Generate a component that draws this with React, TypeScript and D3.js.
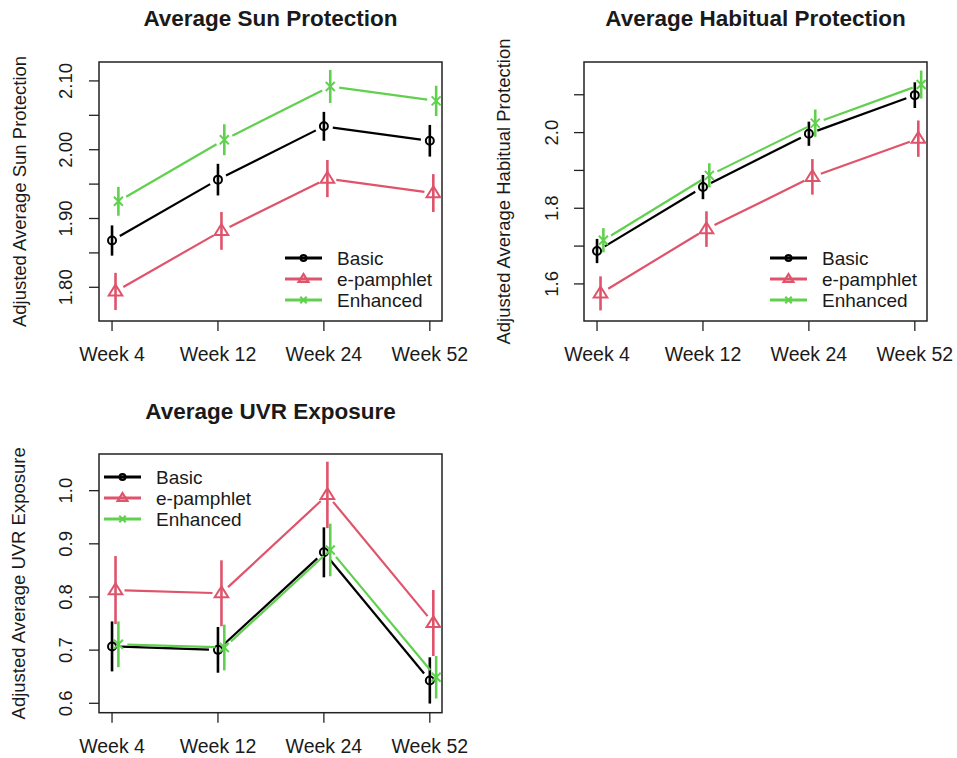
import React from "react";
import * as d3 from "d3";

// Categories and groups
const weeks = ["Week 4", "Week 12", "Week 24", "Week 52"];
const groups = ["Basic", "e-pamphlet", "Enhanced"];
const groupColors = ["#000000", "#DF536B", "#61D04F"];
const groupShapes = ["circle", "triangle", "cross"];
const groupDodge = [0, 0.033, 0.06];

// Average Sun Protection (rows: Basic, e-pamphlet, Enhanced)
const sunMean = [
  [1.868, 1.9565, 2.034, 2.013],
  [1.794, 1.882, 1.958, 1.937],
  [1.925, 2.0145, 2.092, 2.071],
];
const sunErr = [
  [0.022, 0.023, 0.021, 0.023],
  [0.027, 0.0275, 0.027, 0.0275],
  [0.021, 0.0225, 0.024, 0.022],
];
const sunTicks = [1.8, 1.85, 1.9, 1.95, 2.0, 2.05, 2.1];
const sunTickLabels = ["1.80", "", "1.90", "", "2.00", "", "2.10"];

// Average Habitual Protection
const habMean = [
  [1.687, 1.856, 1.997, 2.099],
  [1.575, 1.745, 1.883, 1.984],
  [1.7155, 1.887, 2.025, 2.127],
];
const habErr = [
  [0.032, 0.032, 0.032, 0.034],
  [0.045, 0.047, 0.047, 0.048],
  [0.032, 0.032, 0.036, 0.037],
];
const habTicks = [1.6, 1.7, 1.8, 1.9, 2.0, 2.1];
const habTickLabels = ["1.6", "", "1.8", "", "2.0", ""];

// Average UVR Exposure
const uvrMean = [
  [0.707, 0.7005, 0.884, 0.643],
  [0.813, 0.807, 0.992, 0.751],
  [0.711, 0.705, 0.8885, 0.649],
];
const uvrErr = [
  [0.047, 0.043, 0.047, 0.0435],
  [0.064, 0.062, 0.0625, 0.062],
  [0.043, 0.043, 0.0495, 0.04],
];
const uvrTicks = [0.6, 0.7, 0.8, 0.9, 1.0];
const uvrTickLabels = ["0.6", "0.7", "0.8", "0.9", "1.0"];

const FONT = "'Liberation Sans', Arial, sans-serif";
const TEXT = "#1a1a1a";
const GAP = 9;

function Glyph({ shape, x, y, color, s = 1, sw = 2 }) {
  if (shape === "circle") {
    return <circle cx={x} cy={y} r={4 * s} fill="none" stroke={color} strokeWidth={sw} />;
  }
  if (shape === "triangle") {
    const h = 6.8 * s;
    const w = 6.8 * s;
    const pts = `${x},${y - h} ${x - w},${y + h * 0.6} ${x + w},${y + h * 0.6}`;
    return <polygon points={pts} fill="none" stroke={color} strokeWidth={sw} strokeLinejoin="miter" />;
  }
  const d = 4.5 * s;
  return (
    <g stroke={color} strokeWidth={sw}>
      <line x1={x - d} y1={y - d} x2={x + d} y2={y + d} />
      <line x1={x - d} y1={y + d} x2={x + d} y2={y - d} />
    </g>
  );
}

function Panel({ box, yDomain, means, errs, ticks, tickLabels, title, yLabel, titleY, xLabelY, yTickX, yLabelX, legend }) {
  const x = d3.scaleLinear().domain([0.877, 4.115]).range([box.left, box.right]);
  const y = d3.scaleLinear().domain(yDomain).range([box.bottom, box.top]);
  const cx = (box.left + box.right) / 2;
  const cy = (box.top + box.bottom) / 2;

  return (
    <g fontFamily={FONT} fill={TEXT}>
      <text x={cx} y={titleY} textAnchor="middle" fontWeight="bold" fontSize={22.5}>{title}</text>
      <text
        x={yLabelX}
        y={cy}
        transform={`rotate(-90,${yLabelX},${cy})`}
        textAnchor="middle"
        fontSize={18.5}
      >
        {yLabel}
      </text>

      {/* y axis */}
      {ticks.map((t, i) => (
        <g key={"yt" + i}>
          <line x1={box.left - 10} x2={box.left} y1={y(t)} y2={y(t)} stroke="#222" strokeWidth={1.3} />
          {tickLabels[i] && (
            <text
              x={yTickX}
              y={y(t)}
              transform={`rotate(-90,${yTickX},${y(t)})`}
              textAnchor="middle"
              fontSize={18.5}
            >
              {tickLabels[i]}
            </text>
          )}
        </g>
      ))}

      {/* x axis */}
      {weeks.map((w, i) => (
        <g key={"xt" + i}>
          <line x1={x(i + 1)} x2={x(i + 1)} y1={box.bottom} y2={box.bottom + 10} stroke="#222" strokeWidth={1.3} />
          <text x={x(i + 1)} y={xLabelY} textAnchor="middle" fontSize={19.5}>{w}</text>
        </g>
      ))}

      <rect
        x={box.left}
        y={box.top}
        width={box.right - box.left}
        height={box.bottom - box.top}
        fill="none"
        stroke="#222"
        strokeWidth={1.5}
      />

      {/* series */}
      {groups.map((g, gi) => {
        const pts = means[gi].map((m, i) => [x(i + 1 + groupDodge[gi]), y(m)]);
        const segs = [];
        for (let i = 0; i < pts.length - 1; i++) {
          const [x0, y0] = pts[i];
          const [x1, y1] = pts[i + 1];
          const len = Math.hypot(x1 - x0, y1 - y0);
          const ux = (x1 - x0) / len;
          const uy = (y1 - y0) / len;
          segs.push(
            <line
              key={"s" + i}
              x1={x0 + ux * GAP}
              y1={y0 + uy * GAP}
              x2={x1 - ux * GAP}
              y2={y1 - uy * GAP}
              stroke={groupColors[gi]}
              strokeWidth={2.2}
            />
          );
        }
        return (
          <g key={g}>
            {segs}
            {means[gi].map((m, i) => (
              <line
                key={"e" + i}
                x1={pts[i][0]}
                x2={pts[i][0]}
                y1={y(m - errs[gi][i])}
                y2={y(m + errs[gi][i])}
                stroke={groupColors[gi]}
                strokeWidth={2.6}
              />
            ))}
            {pts.map((p, i) => (
              <Glyph key={"p" + i} shape={groupShapes[gi]} x={p[0]} y={p[1]} color={groupColors[gi]} />
            ))}
          </g>
        );
      })}

      {/* legend */}
      {groups.map((g, gi) => {
        const ly = legend.y + gi * 21;
        return (
          <g key={"lg" + gi}>
            <line x1={legend.x} x2={legend.x + 37} y1={ly} y2={ly} stroke={groupColors[gi]} strokeWidth={3} />
            <Glyph shape={groupShapes[gi]} x={legend.x + 18.5} y={ly} color={groupColors[gi]} s={0.72} sw={2.2} />
            <text x={legend.x + 52} y={ly + 6.5} fontSize={19}>{g}</text>
          </g>
        );
      })}
    </g>
  );
}

export default function App() {
  return (
    <svg
      width={957}
      height={758}
      style={{ position: "absolute", left: 0, top: 0, background: "#fff" }}
    >
      <rect x={0} y={0} width={957} height={758} fill="#fff" />
      <Panel
        box={{ left: 99, right: 442, top: 62, bottom: 321 }}
        yDomain={[1.751, 2.1275]}
        means={sunMean}
        errs={sunErr}
        ticks={sunTicks}
        tickLabels={sunTickLabels}
        title="Average Sun Protection"
        yLabel="Adjusted Average Sun Protection"
        titleY={26}
        xLabelY={361}
        yTickX={72}
        yLabelX={25.5}
        legend={{ x: 285, y: 258 }}
      />
      <Panel
        box={{ left: 584, right: 927, top: 62, bottom: 321 }}
        yDomain={[1.502, 2.1866]}
        means={habMean}
        errs={habErr}
        ticks={habTicks}
        tickLabels={habTickLabels}
        title="Average Habitual Protection"
        yLabel="Adjusted Average Habitual Protection"
        titleY={26}
        xLabelY={361}
        yTickX={558}
        yLabelX={509.5}
        legend={{ x: 770, y: 258 }}
      />
      <Panel
        box={{ left: 99, right: 442, top: 454, bottom: 712.7 }}
        yDomain={[0.5823, 1.069]}
        means={uvrMean}
        errs={uvrErr}
        ticks={uvrTicks}
        tickLabels={uvrTickLabels}
        title="Average UVR Exposure"
        yLabel="Adjusted Average UVR Exposure"
        titleY={419}
        xLabelY={752.5}
        yTickX={72}
        yLabelX={25.5}
        legend={{ x: 104, y: 477 }}
      />
    </svg>
  );
}
